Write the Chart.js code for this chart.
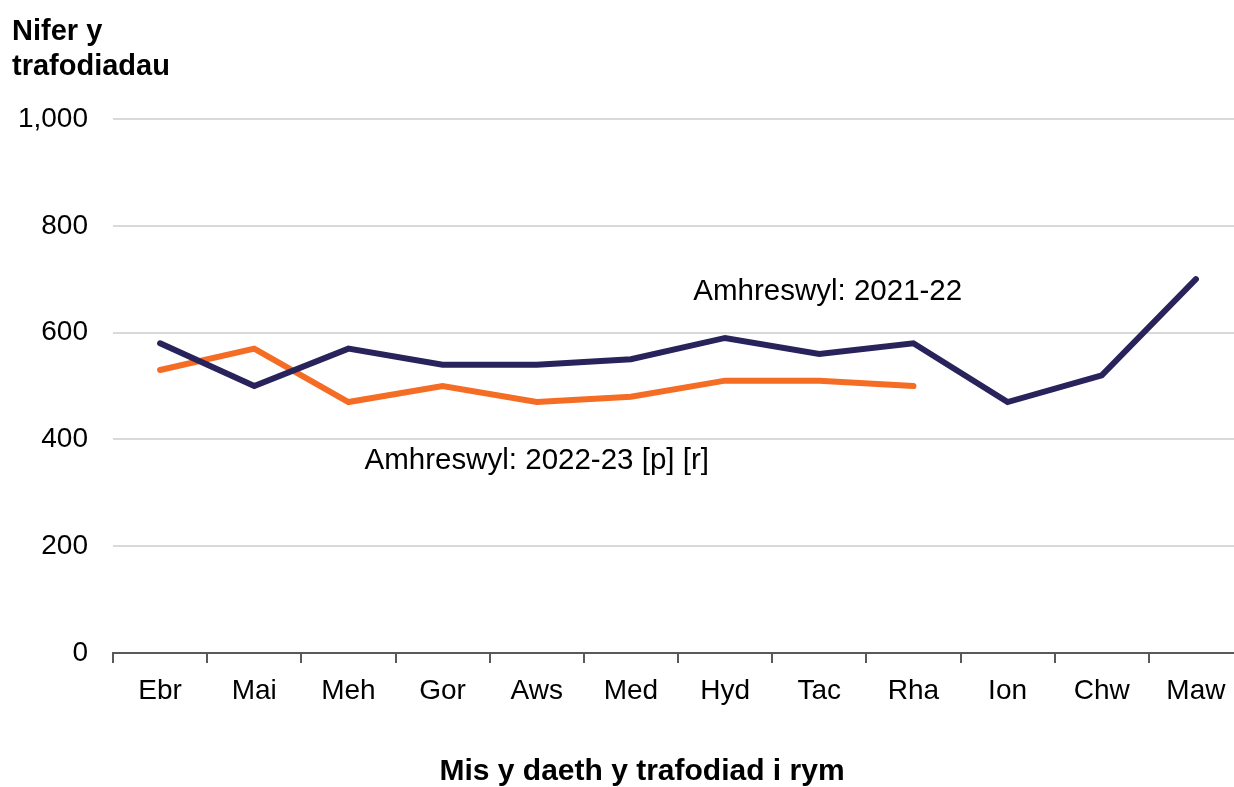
<!DOCTYPE html>
<html>
<head>
<meta charset="utf-8">
<script src="https://cdn.jsdelivr.net/npm/chart.js@4.4.0/dist/chart.umd.min.js"></script>
<style>
  html, body { margin: 0; padding: 0; background: #fff; overflow: hidden; }
  #wrap { width: 1274px; height: 787px; }
</style>
</head>
<body>
<div id="wrap"><canvas id="myChart"></canvas></div>
<script>
const months = ['Ebr', 'Mai', 'Meh', 'Gor', 'Aws', 'Med', 'Hyd', 'Tac', 'Rha', 'Ion', 'Chw', 'Maw'];

// Amhreswyl 2021-22
const values2122 = [580, 500, 570, 540, 540, 550, 590, 560, 580, 470, 520, 700];
// Amhreswyl 2022-23 [p] [r] (hyd at Rhagfyr)
const values2223 = [530, 570, 470, 500, 470, 480, 510, 510, 500];

const seriesNames = ['Amhreswyl: 2021-22', 'Amhreswyl: 2022-23 [p] [r]'];
const yTicks = [0, 200, 400, 600, 800, 1000];

const fontFamily = '"Liberation Sans", Arial, sans-serif';
const navy = '#29235c';
const orange = '#f56d24';

// label anchors in data units (category index, value)
const labelAnchors = [
    { text: seriesNames[0], x: 7.09, y: 676 },
    { text: seriesNames[1], x: 4.0, y: 360 }
];

const ctx = document.getElementById('myChart');

const textPlugin = {
    id: 'textPlugin',
    afterDatasetsDraw(chart) {
        const c = chart.ctx;
        const xs = chart.scales.x;
        const ys = chart.scales.y;
        c.save();
        c.fillStyle = '#000';
        c.font = '29.5px ' + fontFamily;
        c.textAlign = 'center';
        c.textBaseline = 'middle';
        labelAnchors.forEach(a => {
            c.fillText(a.text, xs.getPixelForValue(a.x), ys.getPixelForValue(a.y));
        });
        // titl echelin x
        c.font = 'bold 30px ' + fontFamily;
        c.fillText('Mis y daeth y trafodiad i rym', chart.width / 2 + 5, chart.height - 15);
        c.restore();
    }
};

new Chart(ctx, {
    type: 'line',
    data: {
        labels: months,
        datasets: [
            {
                label: seriesNames[0],
                data: values2122,
                borderColor: navy,
                backgroundColor: navy,
                borderWidth: 6,
                pointRadius: 0,
                borderCapStyle: 'round',
                tension: 0
            },
            {
                label: seriesNames[1],
                data: values2223,
                borderColor: orange,
                backgroundColor: orange,
                borderWidth: 6,
                pointRadius: 0,
                borderCapStyle: 'round',
                tension: 0
            }
        ]
    },
    options: {
        responsive: true,
        maintainAspectRatio: false,
        animation: false,
        layout: { padding: { left: 12, right: 31, top: 0, bottom: 0 } },
        plugins: {
            legend: { display: false },
            tooltip: { enabled: false },
            title: {
                display: true,
                text: ['Nifer y', 'trafodiadau'],
                align: 'start',
                color: '#000',
                font: { family: fontFamily, size: 29, weight: 'bold', lineHeight: '35px' },
                padding: { top: 14, bottom: 35 }
            }
        },
        scales: {
            x: {
                offset: true,
                grid: {
                    offset: true,
                    drawOnChartArea: false,
                    drawTicks: true,
                    tickLength: 10,
                    color: '#595959',
                    lineWidth: 2
                },
                border: { display: true, color: '#595959', width: 2 },
                ticks: {
                    color: '#000',
                    font: { family: fontFamily, size: 28 },
                    padding: 11,
                    maxRotation: 0
                },
                afterFit(scale) { scale.height = 134; }
            },
            y: {
                min: 0,
                max: 1000,
                afterBuildTicks(scale) { scale.ticks = yTicks.map(v => ({ value: v })); },
                grid: { color: '#d9d9d9', lineWidth: 2, drawTicks: false },
                border: { display: false },
                ticks: {
                    color: '#000',
                    font: { family: fontFamily, size: 28 },
                    padding: 25
                },
                afterFit(scale) { scale.width = 101; }
            }
        }
    },
    plugins: [textPlugin]
});
</script>
</body>
</html>
